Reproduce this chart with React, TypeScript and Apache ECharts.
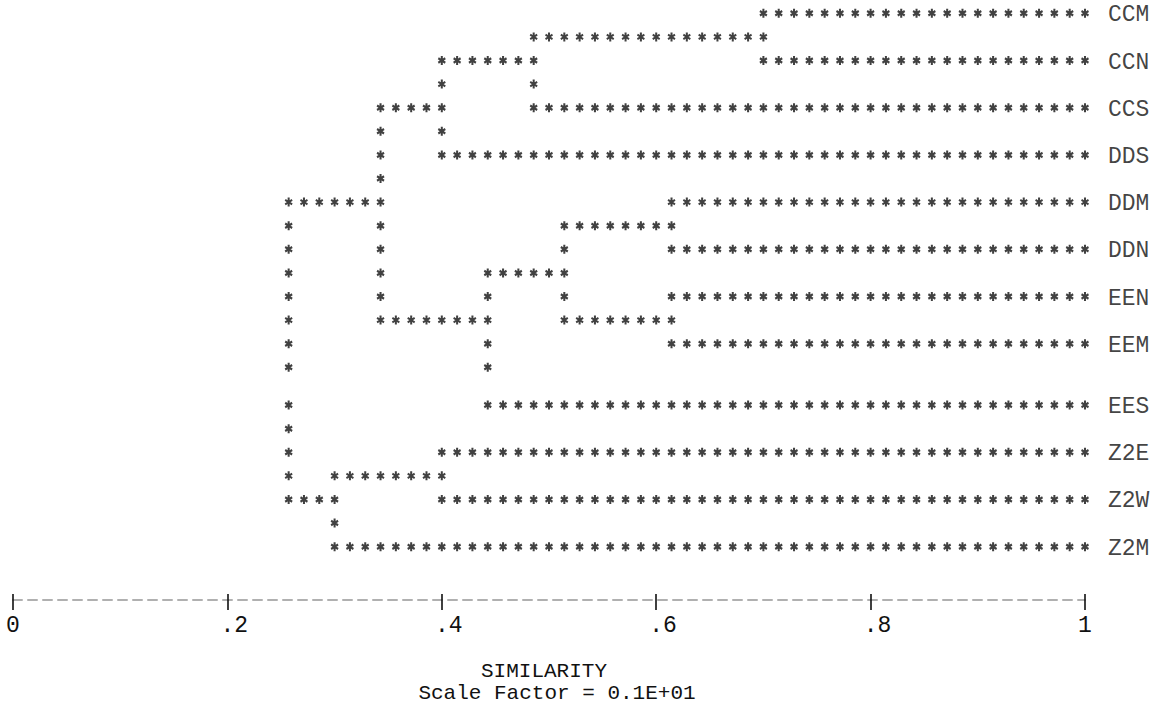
import React, { useEffect, useRef } from "react";
import * as echarts from "echarts";

// Leaves of the dendrogram, top to bottom
const leaves = ["CCM", "CCN", "CCS", "DDS", "DDM", "DDN", "EEN", "EEM", "EES", "Z2E", "Z2W", "Z2M"];

// Merges (agglomeration steps): node name, its two children and the similarity level
const mergeNames = ["N1", "N2", "N3", "N4", "N5", "N6", "N7", "N8", "N9", "N10", "N11"];
const mergeLeft = ["CCM", "N1", "N2", "DDM", "EEN", "N4", "N6", "N3", "Z2E", "N9", "N8"];
const mergeRight = ["CCN", "CCS", "DDS", "DDN", "EEM", "N5", "EES", "N7", "Z2W", "Z2M", "N10"];
const mergeSimilarity = [0.7, 0.486, 0.4, 0.614, 0.614, 0.514, 0.443, 0.343, 0.4, 0.3, 0.257];

// Axis tick labels
const tickValues = [0, 0.2, 0.4, 0.6, 0.8, 1];
const tickLabels = ["0", ".2", ".4", ".6", ".8", "1"];

const axisTitle = "SIMILARITY";
const scaleNote = "Scale Factor = 0.1E+01";

// Printer grid: 70 print columns between 0 and 1, two print lines per leaf
const COLS = 70;
// the scanned print-out has an uneven line feed before line 16
const SLIP_LINE = 16;
const SLIP_EXTRA = 0.6;

const FONT = "'Liberation Mono', 'DejaVu Sans Mono', monospace";
const FONT_SIZE = 23;

const STAR =
  "path://M-0.25 -1 L0.25 -1 L0.25 1 L-0.25 1 Z " +
  "M-0.991 -0.2835 L-0.741 -0.7165 L0.991 0.2835 L0.741 0.7165 Z " +
  "M0.741 -0.7165 L0.991 -0.2835 L-0.741 0.7165 L-0.991 0.2835 Z";

function printedLine(l: number) {
  return l >= SLIP_LINE ? l + SLIP_EXTRA : l;
}

function buildStars() {
  const stub: Record<string, number> = {};
  const colOf: Record<string, number> = {};
  const parentCol: Record<string, number> = {};
  const cells = new Set<string>();
  leaves.forEach((n, i) => {
    stub[n] = 2 * i;
    colOf[n] = COLS;
  });
  mergeNames.forEach((m, k) => {
    const a = mergeLeft[k];
    const b = mergeRight[k];
    const c = Math.round(mergeSimilarity[k] * COLS);
    colOf[m] = c;
    parentCol[a] = c;
    parentCol[b] = c;
    const la = stub[a];
    const lb = stub[b];
    stub[m] = Math.floor((la + lb) / 2);
    for (let l = la + 1; l < lb; l++) cells.add(c + ":" + l);
  });
  Object.keys(parentCol).forEach((n) => {
    // the final star of each leaf line is drawn by the labelled "leaves" series
    const last = colOf[n] === COLS ? COLS - 1 : colOf[n];
    for (let c = parentCol[n]; c <= last; c++) cells.add(c + ":" + stub[n]);
  });
  const pts: number[][] = [];
  cells.forEach((key) => {
    const [c, l] = key.split(":").map(Number);
    pts.push([c / COLS, printedLine(l)]);
  });
  return pts;
}

export default function App() {
  const ref = useRef<HTMLDivElement>(null);
  useEffect(() => {
    if (!ref.current) return;
    const chart = echarts.init(ref.current, null, { renderer: "svg" });
    const pitch = FONT_SIZE * 0.6;
    const stars = buildStars();
    const leafPoints = leaves.map((n, i) => ({ value: [1, printedLine(2 * i)], name: n }));
    const gridTop = 13.3;
    const gridBottom = 109;
    const gridHeight = 709 - gridTop - gridBottom;
    chart.setOption({
      animation: false,
      backgroundColor: "#ffffff",
      grid: { left: 13, right: 79, top: gridTop, bottom: gridBottom, containLabel: false },
      xAxis: [
        {
          type: "value",
          position: "bottom",
          min: 0,
          max: 1,
          interval: 0.2,
          axisLine: {
            show: true,
            onZero: false,
            lineStyle: { color: "#b0b0b0", width: 2, type: [9, 6] },
          },
          axisTick: { show: true, inside: false, length: 10, lineStyle: { color: "#111", width: 1.6 } },
          axisLabel: {
            show: true,
            formatter: (v: number) => tickLabels[tickValues.findIndex((t) => Math.abs(t - v) < 1e-6)] ?? "",
            fontFamily: FONT,
            fontSize: FONT_SIZE,
            color: "#111",
            align: "left",
            padding: [0, 0, 0, -pitch / 2],
            margin: 14,
            showMinLabel: true,
            showMaxLabel: true,
          },
          splitLine: { show: false },
        },
        {
          // upper half of the typed "|" tick marks
          type: "value",
          position: "top",
          offset: -gridHeight,
          min: 0,
          max: 1,
          interval: 0.2,
          axisLine: { show: false, onZero: false },
          axisTick: { show: true, inside: false, length: 6, lineStyle: { color: "#111", width: 1.6 } },
          axisLabel: { show: false },
          splitLine: { show: false },
        },
      ],
      yAxis: {
        type: "value",
        inverse: true,
        min: 0,
        max: 24.86,
        show: false,
        splitLine: { show: false },
      },
      series: [
        {
          name: "dendrogram",
          type: "scatter",
          xAxisIndex: 0,
          symbol: STAR,
          symbolSize: [8, 9],
          itemStyle: { color: "#111" },
          data: stars,
          clip: false,
          silent: true,
        },
        {
          name: "leaves",
          type: "scatter",
          xAxisIndex: 0,
          symbol: STAR,
          symbolSize: [8, 9],
          itemStyle: { color: "#111" },
          data: leafPoints,
          clip: false,
          silent: true,
          label: {
            show: true,
            position: "right",
            distance: 19,
            offset: [0, 2],
            formatter: (p: any) => p.name,
            fontFamily: FONT,
            fontSize: FONT_SIZE,
            color: "#111",
          },
        },
      ],
      graphic: [
        {
          type: "text",
          x: 544,
          y: 671,
          style: {
            text: axisTitle,
            font: `21px ${FONT}`,
            fill: "#111",
            textAlign: "center",
            textVerticalAlign: "middle",
          },
        },
        {
          type: "text",
          x: 557,
          y: 693,
          style: {
            text: scaleNote,
            font: `21px ${FONT}`,
            fill: "#111",
            textAlign: "center",
            textVerticalAlign: "middle",
          },
        },
      ],
    });
    return () => chart.dispose();
  }, []);
  return (
    <div
      ref={ref}
      style={{ position: "absolute", left: 0, top: 0, width: 1164, height: 709 }}
    />
  );
}
